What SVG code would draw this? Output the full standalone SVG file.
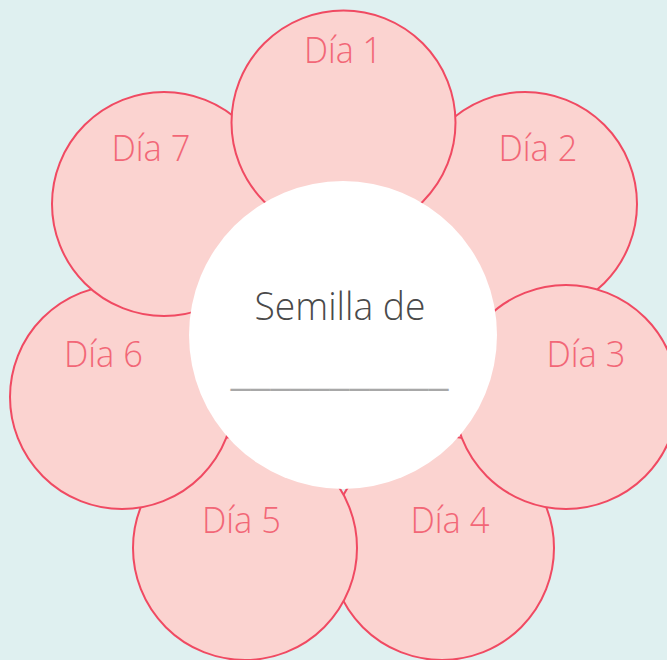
<svg xmlns="http://www.w3.org/2000/svg" width="667" height="660" viewBox="0 0 667 660">
<style>
.petal{fill:#fbd3d0;stroke:#f04a62;stroke-width:2}
.lbl{font-family:"Open Sans","Liberation Sans",sans-serif;font-weight:300;font-size:36px;fill:#f26777;text-anchor:middle}
.center{fill:#ffffff}
.title{font-family:"Open Sans","Liberation Sans",sans-serif;font-weight:300;font-size:39px;fill:#4a4a4a;text-anchor:middle}
.blank{font-family:"Open Sans","Liberation Sans",sans-serif;font-weight:400;font-size:36px;fill:#a8a8a8;text-anchor:middle}
</style>
<rect width="667" height="660" fill="#dff0f0"/>
<g id="dia4"><circle class="petal" cx="442" cy="548" r="112"/><text class="lbl" x="450" y="533" textLength="79" lengthAdjust="spacingAndGlyphs">Día 4</text></g>
<g id="dia5"><circle class="petal" cx="245" cy="548" r="112"/><text class="lbl" x="241.5" y="533" textLength="79" lengthAdjust="spacingAndGlyphs">Día 5</text></g>
<g id="dia6"><circle class="petal" cx="122" cy="397" r="112"/><text class="lbl" x="103.5" y="367" textLength="79" lengthAdjust="spacingAndGlyphs">Día 6</text></g>
<g id="dia7"><circle class="petal" cx="164" cy="204" r="112"/><text class="lbl" x="151" y="161" textLength="79" lengthAdjust="spacingAndGlyphs">Día 7</text></g>
<g id="dia2"><circle class="petal" cx="525" cy="204" r="112"/><text class="lbl" x="538" y="161" textLength="79" lengthAdjust="spacingAndGlyphs">Día 2</text></g>
<g id="dia3"><circle class="petal" cx="566" cy="397" r="112"/><text class="lbl" x="586" y="367" textLength="79" lengthAdjust="spacingAndGlyphs">Día 3</text></g>
<g id="dia1"><circle class="petal" cx="343.5" cy="122.5" r="112"/><text class="lbl" x="343" y="63" textLength="78" lengthAdjust="spacingAndGlyphs">Día 1</text></g>
<g id="semilla"><circle class="center" cx="343" cy="335" r="154"/><text class="title" x="340" y="320" textLength="171" lengthAdjust="spacingAndGlyphs">Semilla de</text><text class="blank" x="339.5" y="386" textLength="218" lengthAdjust="spacingAndGlyphs">___________</text></g>
<g id="connectors"/>
</svg>
